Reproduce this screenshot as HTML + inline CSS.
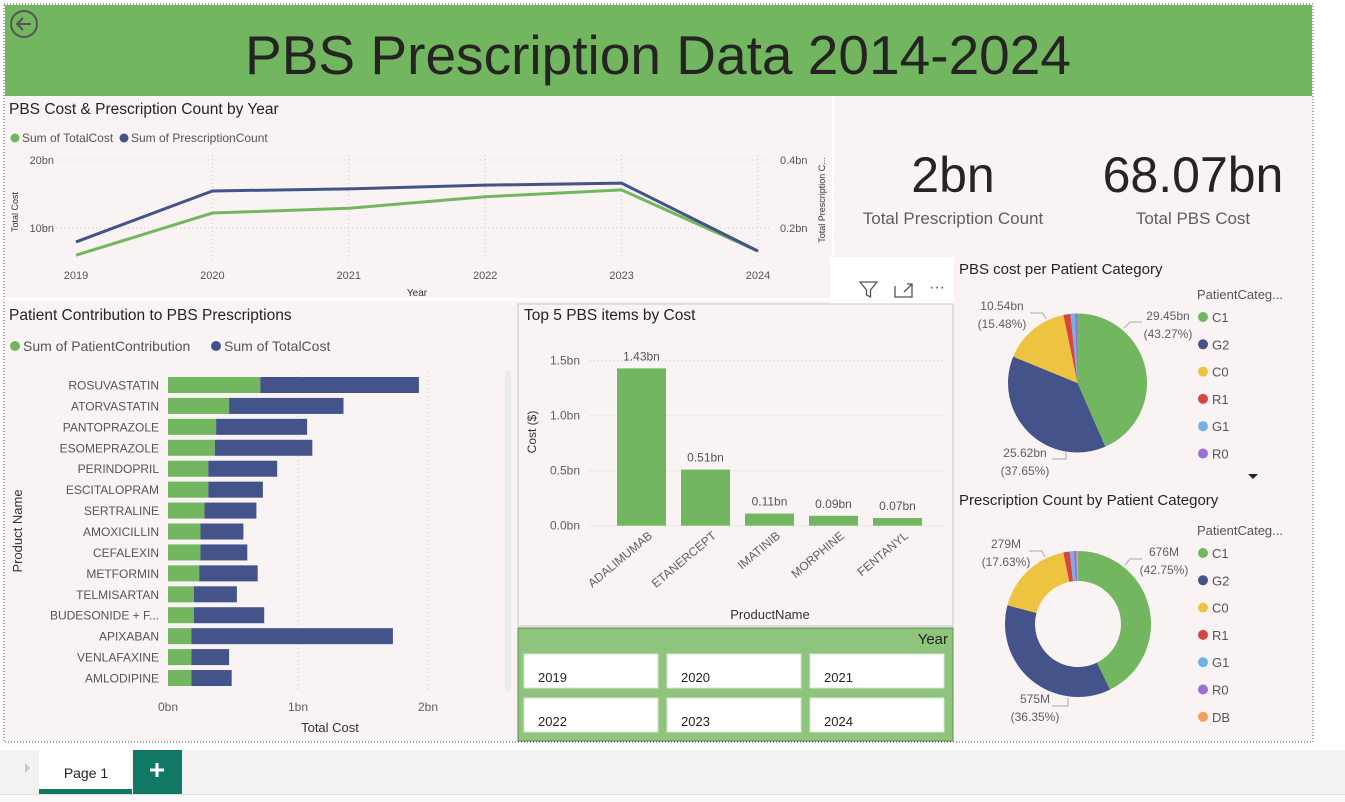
<!DOCTYPE html>
<html><head><meta charset="utf-8">
<style>
html,body{margin:0;padding:0;background:#fff;width:1345px;height:802px;overflow:hidden;font-family:"Liberation Sans",sans-serif;}
svg text{font-family:"Liberation Sans",sans-serif;}
</style></head>
<body>
<svg id="root" width="1345" height="802" viewBox="0 0 1345 802" xmlns="http://www.w3.org/2000/svg">
  <rect x="0" y="0" width="1345" height="802" fill="#ffffff"/>
  <rect x="4" y="4" width="1309" height="738" fill="#f9f3f3" stroke="#555" stroke-width="1" stroke-dasharray="1,2"/>
  <rect x="5" y="5" width="1307" height="91" fill="#72b760"/>
  <g>
    <circle cx="24" cy="24" r="13" fill="none" stroke="#555" stroke-width="2"/>
    <path d="M31 24H17M23 18l-6 6 6 6" fill="none" stroke="#555" stroke-width="2"/>
  </g>
  <text x="658" y="74" text-anchor="middle" font-size="55" fill="#252423" textLength="826" lengthAdjust="spacingAndGlyphs">PBS Prescription Data 2014-2024</text>

  <rect x="832" y="96" width="2" height="160" fill="#ffffff"/>
  <rect x="4" y="298" width="828" height="3" fill="#ffffff"/>
  <rect x="830" y="257" width="124" height="47" fill="#ffffff"/>
  <g><path d="M860 282h17l-6.5 8v7l-4 -2v-5z" fill="none" stroke="#555" stroke-width="1.3"/></g>
  <g><path d="M895 286v11h17v-11M904 292l8-8M907 284h5v5" fill="none" stroke="#555" stroke-width="1.3"/></g>
  <text x="937" y="292" text-anchor="middle" font-size="16" fill="#555">···</text>

  <g id="lineChart">
    <text x="9" y="114" font-size="15.5" fill="#252423">PBS Cost &amp; Prescription Count by Year</text>
    <circle cx="15" cy="138" r="4.5" fill="#72b760"/>
    <text x="22" y="142" font-size="12" fill="#555">Sum of TotalCost</text>
    <circle cx="124" cy="138" r="4.5" fill="#44548a"/>
    <text x="131" y="142" font-size="12" fill="#555">Sum of PrescriptionCount</text>
    <text transform="translate(18,212) rotate(-90)" text-anchor="middle" font-size="9" fill="#333">Total Cost</text>
    <text transform="translate(825,200) rotate(-90)" text-anchor="middle" font-size="9" fill="#333">Total Prescription C...</text>
    <text x="417" y="296" text-anchor="middle" font-size="10" fill="#333">Year</text>
  </g>

  <g id="barChart">
    <text x="9" y="320" font-size="15.5" fill="#252423">Patient Contribution to PBS Prescriptions</text>
    <circle cx="15" cy="346" r="5" fill="#72b760"/>
    <text x="23" y="351" font-size="14" fill="#555">Sum of PatientContribution</text>
    <circle cx="216" cy="346" r="5" fill="#44548a"/>
    <text x="224" y="351" font-size="14" fill="#555">Sum of TotalCost</text>
    <text transform="translate(22,531) rotate(-90)" text-anchor="middle" font-size="13" fill="#333">Product Name</text>
    <text x="330" y="732" text-anchor="middle" font-size="13" fill="#333">Total Cost</text>
    <rect x="505" y="370" width="6" height="322" rx="3" fill="#ecebeb"/>
  </g>

  <g id="colChart">
    <rect x="518" y="304" width="435" height="322" fill="none" stroke="#c8c8c8" stroke-width="1"/>
    <text x="524" y="320" font-size="15.5" fill="#252423">Top 5 PBS items by Cost</text>
    <text transform="translate(536,432) rotate(-90)" text-anchor="middle" font-size="12" fill="#333">Cost ($)</text>
    <text x="770" y="619" text-anchor="middle" font-size="13" fill="#333">ProductName</text>
  </g>

  <g>
    <rect x="518" y="628" width="435" height="113" fill="#8ec47c" stroke="#5f8f52" stroke-width="1"/>
    <text x="948" y="644" text-anchor="end" font-size="15" fill="#252423">Year</text>
  </g>
  <g id="slicerItems"></g>

  <g>
    <text x="953" y="192" text-anchor="middle" font-size="50" fill="#252423">2bn</text>
    <text x="953" y="224" text-anchor="middle" font-size="17" fill="#605e5c">Total Prescription Count</text>
  </g>
  <g>
    <text x="1193" y="192" text-anchor="middle" font-size="50" fill="#252423">68.07bn</text>
    <text x="1193" y="224" text-anchor="middle" font-size="17" fill="#605e5c">Total PBS Cost</text>
  </g>

  <g id="pie1">
    <text x="959" y="274" font-size="15" fill="#252423">PBS cost per Patient Category</text>
    <text x="1197" y="299" font-size="13" fill="#555">PatientCateg...</text>
  </g>
  <g id="pie2">
    <text x="959" y="505" font-size="15" fill="#252423">Prescription Count by Patient Category</text>
    <text x="1197" y="535" font-size="13" fill="#555">PatientCateg...</text>
  </g>
  <path d="M1248 474h10l-5 5z" fill="#222"/>

  <rect x="0" y="750" width="1345" height="44" fill="#f3f2f1"/>
  <rect x="0" y="794" width="1345" height="8" fill="#faf9f8"/>
  <rect x="0" y="794" width="1345" height="1" fill="#e1dfdd"/>
  <path d="M25 763l5 5-5 5z" fill="#c8c6c4"/>
  <g>
    <rect x="39" y="750" width="93" height="44" fill="#ffffff"/>
    <rect x="39" y="789" width="93" height="5" fill="#117865"/>
    <text x="86" y="778" text-anchor="middle" font-size="14" fill="#252423">Page 1</text>
  </g>
  <g>
    <rect x="133" y="750" width="49" height="44" fill="#117865"/>
    <path d="M157 763v14M150 770h14" stroke="#fff" stroke-width="3"/>
  </g>
</svg>
<script>
const NS='http://www.w3.org/2000/svg';
function mk(parent,tag,attrs,txt){const e=document.createElementNS(NS,tag);for(const k in attrs)e.setAttribute(k,attrs[k]);if(txt!==undefined)e.textContent=txt;parent.appendChild(e);return e;}

const years=['2019','2020','2021','2022','2023','2024'];
const totalCostBn=[6.0,12.2,12.9,14.6,15.6,6.6];
const prescCountBn=[0.159,0.309,0.315,0.326,0.332,0.132];
const leftTicks=[10,20];
const rightTicks=[0.2,0.4];

const products=['ROSUVASTATIN','ATORVASTATIN','PANTOPRAZOLE','ESOMEPRAZOLE','PERINDOPRIL','ESCITALOPRAM','SERTRALINE','AMOXICILLIN','CEFALEXIN','METFORMIN','TELMISARTAN','BUDESONIDE + F...','APIXABAN','VENLAFAXINE','AMLODIPINE'];
const patientContrib=[0.71,0.47,0.37,0.36,0.31,0.31,0.28,0.25,0.25,0.24,0.20,0.20,0.18,0.18,0.18];
const totalCostProd=[1.22,0.88,0.70,0.75,0.53,0.42,0.40,0.33,0.36,0.45,0.33,0.54,1.55,0.29,0.31];
const barTicks=[0,1,2];

const topItems=['ADALIMUMAB','ETANERCEPT','IMATINIB','MORPHINE','FENTANYL'];
const topCost=[1.43,0.51,0.11,0.09,0.07];
const topLabels=['1.43bn','0.51bn','0.11bn','0.09bn','0.07bn'];
const colTicks=[0,0.5,1.0,1.5];

const cats=['C1','G2','C0','R1','G1','R0'];
const catCost=[29.45,25.62,10.54,1.1,0.7,0.4];
const cats2=['C1','G2','C0','R1','G1','R0','DB'];
const catCount=[676,575,279,22,14,10,5];
const catColors={C1:'#72b760',G2:'#44548a',C0:'#eec33f',R1:'#d64541',G1:'#6fb1e8',R0:'#9a6fd8',DB:'#f1a05a'};
const slicerYears=['2019','2020','2021','2022','2023','2024'];

(function(){
  const g=document.getElementById('lineChart');
  const x=i=>76+i*136.4;
  const yL=v=>296-v*6.8;
  const yR=v=>296-v*340;
  years.forEach((yr,i)=>{
    if(i>0){const gl=mk(g,'line',{x1:x(i),x2:x(i),y1:155,y2:262,stroke:'#ccc','stroke-dasharray':'1,3'});
    }
    const t=mk(g,'text',{x:x(i),y:279,'text-anchor':'middle','font-size':11,fill:'#555'},yr);
    
  });
  leftTicks.forEach(v=>{
    const gl=mk(g,'line',{x1:44,x2:772,y1:yL(v),y2:yL(v),stroke:'#ccc','stroke-dasharray':'1,3'});
    
    const t=mk(g,'text',{x:54,y:yL(v)+4,'text-anchor':'end','font-size':11,fill:'#555'},v+'bn');
    
  });
  rightTicks.forEach(v=>{
    const t=mk(g,'text',{x:780,y:yR(v)+4,'font-size':11,fill:'#555'},v+'bn');
    
  });
  const p1=mk(g,'polyline',{points:totalCostBn.map((v,i)=>x(i)+','+yL(v)).join(' '),fill:'none',stroke:'#72b760','stroke-width':3});
  
  const p2=mk(g,'polyline',{points:prescCountBn.map((v,i)=>x(i)+','+yR(v)).join(' '),fill:'none',stroke:'#44548a','stroke-width':3});
  
})();

(function(){
  const g=document.getElementById('barChart');
  const x=v=>168+v*130;
  const y=i=>377+i*20.93;
  barTicks.forEach(v=>{
    if(v>0){const gl=mk(g,'line',{x1:x(v),x2:x(v),y1:372,y2:690,stroke:'#ccc','stroke-dasharray':'1,3'});
    }
    const t=mk(g,'text',{x:x(v),y:711,'text-anchor':'middle','font-size':12,fill:'#605e5c'},v+'bn');
    
  });
  products.forEach((p,i)=>{
    const t=mk(g,'text',{x:159,y:y(i)+12.5,'text-anchor':'end','font-size':12,fill:'#555'},p);
    
    const b1=mk(g,'rect',{x:x(0),y:y(i),width:patientContrib[i]*130,height:16,fill:'#72b760'});
    
    const b2=mk(g,'rect',{x:x(patientContrib[i]),y:y(i),width:totalCostProd[i]*130,height:16,fill:'#44548a'});
    
  });
})();

(function(){
  const g=document.getElementById('colChart');
  const y=v=>525.7-v*110;
  const x=i=>617+i*64;
  colTicks.forEach(v=>{
    const gl=mk(g,'line',{x1:590,x2:945,y1:y(v),y2:y(v),stroke:'#ccc','stroke-dasharray':'1,3'});
    
    const t=mk(g,'text',{x:580,y:y(v)+4,'text-anchor':'end','font-size':12,fill:'#605e5c'},v.toFixed(1)+'bn');
    
  });
  topItems.forEach((n,i)=>{
    const b=mk(g,'rect',{x:x(i),y:y(topCost[i]),width:49,height:topCost[i]*110,fill:'#72b760'});
    
    const l=mk(g,'text',{x:x(i)+24.5,y:y(topCost[i])-8,'text-anchor':'middle','font-size':12,fill:'#555'},topLabels[i]);
    
    const t=mk(g,'text',{transform:`translate(${x(i)+36},${537}) rotate(-40)`,'text-anchor':'end','font-size':12,fill:'#605e5c'},n);
    
  });
})();

(function(){
  const g=document.getElementById('slicerItems');
  slicerYears.forEach((yr,i)=>{
    const c=i%3,r=Math.floor(i/3);
    const bx=524+c*143,by=654+r*44;
    const b=mk(g,'rect',{x:bx,y:by,width:134,height:34,fill:'#fff',stroke:'#d8e6d2'});
    
    const t=mk(g,'text',{x:bx+14,y:by+28,'font-size':13,fill:'#252423'},yr);
    
  });
})();

function drawPie(gid,cs,vals,cx,cy,r,ir,legendY,labels){
  const g=document.getElementById(gid);
  const tot=vals.reduce((a,b)=>a+b,0);
  let a=-Math.PI/2;
  vals.forEach((v,i)=>{
    const a2=a+v/tot*2*Math.PI,large=(a2-a)>Math.PI?1:0;
    const p=(ang,rr)=>(cx+rr*Math.cos(ang)).toFixed(2)+','+(cy+rr*Math.sin(ang)).toFixed(2);
    let d='M'+p(a,r)+'A'+r+','+r+' 0 '+large+' 1 '+p(a2,r);
    d+= ir>0 ? 'L'+p(a2,ir)+'A'+ir+','+ir+' 0 '+large+' 0 '+p(a,ir)+'Z' : 'L'+cx+','+cy+'Z';
    const s=mk(g,'path',{d:d,fill:catColors[cs[i]]});
    
    a=a2;
  });
  cs.forEach((c,i)=>{
    const yy=legendY+i*27.3;
    const d=mk(g,'circle',{cx:1203,cy:yy,r:5,fill:catColors[c]});
    
    const t=mk(g,'text',{x:1212,y:yy+5,'font-size':13,fill:'#555'},c);
    
  });
  labels.forEach(L=>{
    const t1=mk(g,'text',{x:L[0],y:L[1],'text-anchor':'middle','font-size':12,fill:'#605e5c'},L[2]);
    
    const t2=mk(g,'text',{x:L[0],y:L[1]+18,'text-anchor':'middle','font-size':12,fill:'#605e5c'},L[3]);
    
    const ln=mk(g,'polyline',{points:L[4],fill:'none',stroke:'#aaa'});
    
  });
}
drawPie('pie1',cats,catCost,1077.5,383,69.5,0,317,[
  [1168,320,'29.45bn','(43.27%)','1142,322 1130,322 1124,328'],
  [1002,310,'10.54bn','(15.48%)','1030,313 1043,313 1046,319'],
  [1025,457,'25.62bn','(37.65%)','1052,459 1066,459 1066,452']
]);
drawPie('pie2',cats2,catCount,1078,624,73,43,553,[
  [1164,556,'676M','(42.75%)','1142,559 1130,559 1125,565'],
  [1006,548,'279M','(17.63%)','1029,551 1042,551 1045,557'],
  [1035,703,'575M','(36.35%)','1052,706 1068,706 1068,698']
]);
</script>
</body></html>
